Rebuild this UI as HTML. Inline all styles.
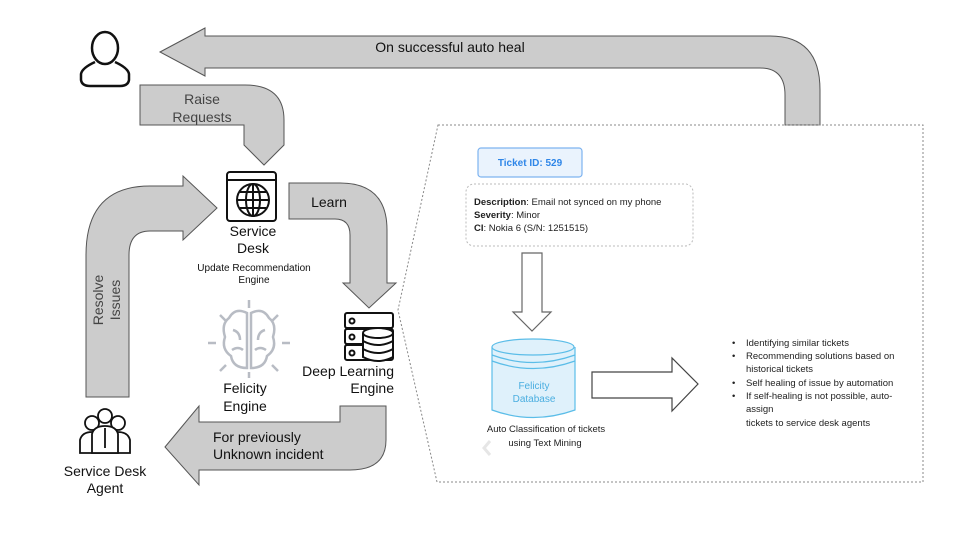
<!DOCTYPE html>
<html><head><meta charset="utf-8"><style>
body{margin:0;background:#fff}
svg{display:block}
text{font-family:"Liberation Sans",sans-serif}
</style></head><body>
<svg width="960" height="540" viewBox="0 0 960 540" xmlns="http://www.w3.org/2000/svg">
<rect width="960" height="540" fill="#fff"/>
<g fill="#cccccc" stroke="#555" stroke-width="1">
<path d="M160,52 L205,28 L205,36 L770,36 Q820,36 820,90 L820,125 L785,125 L785,95 Q785,68 760,68 L205,68 L205,76 Z"/>
<path d="M140,85 L245,85 Q284,85 284,120 L284,145 L264,165 L244,145 L244,125 L140,125 Z"/>
<path d="M86,397 L86,255 Q86,186 150,186 L183,186 L183,176 L217,208 L183,240 L183,231 L150,231 Q129,231 129,255 L129,397 Z"/>
<path d="M289,183 L340,183 Q387,183 387,230 L387,283 L396,283 L369,308 L343,283 L350,283 L350,235 Q350,219 335,219 L289,219 Z"/>
<path d="M165,447 L199,406 L199,422 L340,422 L340,406 L386,406 L386,440 Q386,470 350,470 L199,470 L199,485 Z"/>
</g>
<g fill="#333" font-size="14">
<text x="450" y="52" text-anchor="middle" fill="#111">On successful auto heal</text>
<text x="202" y="104" text-anchor="middle" fill="#444">Raise</text>
<text x="202" y="122" text-anchor="middle" fill="#444">Requests</text>
<text x="329" y="207" text-anchor="middle" fill="#111">Learn</text>
<text x="213" y="442" fill="#111">For previously</text>
<text x="213" y="459" fill="#111">Unknown incident</text>
<text transform="translate(103,300) rotate(-90)" text-anchor="middle" fill="#444">Resolve</text>
<text transform="translate(120,300) rotate(-90)" text-anchor="middle" fill="#444">Issues</text>
<text x="253" y="236" text-anchor="middle" fill="#111">Service</text>
<text x="253" y="253" text-anchor="middle" fill="#111">Desk</text>
<text x="245" y="393" text-anchor="middle" fill="#111">Felicity</text>
<text x="245" y="411" text-anchor="middle" fill="#111">Engine</text>
<text x="394" y="376" text-anchor="end" fill="#111">Deep Learning</text>
<text x="394" y="393" text-anchor="end" fill="#111">Engine</text>
<text x="105" y="476" text-anchor="middle" fill="#111">Service Desk</text>
<text x="105" y="493" text-anchor="middle" fill="#111">Agent</text>
</g>
<text x="254" y="271" font-size="10" text-anchor="middle" fill="#111">Update Recommendation</text>
<text x="254" y="283" font-size="10" text-anchor="middle" fill="#111">Engine</text>
<!-- person -->
<g fill="none" stroke="#111" stroke-width="2.5">
<ellipse cx="105" cy="48" rx="13" ry="16"/>
<path d="M95,62 Q82,68 81,74 L81,80 Q82,86 90,86 L120,86 Q128,86 129,80 L129,74 Q128,68 115,62"/>
</g>
<!-- browser icon -->
<g fill="none" stroke="#111" stroke-width="2">
<rect x="227" y="172" width="49" height="49" rx="3"/>
<line x1="227" y1="180" x2="276" y2="180"/>
<circle cx="253" cy="200" r="16"/>
<ellipse cx="253" cy="200" rx="7" ry="16"/>
<line x1="237" y1="200" x2="269" y2="200"/>
<line x1="240" y1="192" x2="266" y2="192"/><line x1="240" y1="208" x2="266" y2="208"/>
<line x1="253" y1="184" x2="253" y2="216"/>
</g>
<!-- server icon -->
<g fill="#fff" stroke="#111" stroke-width="2">
<rect x="345" y="313" width="48" height="15" rx="2"/>
<rect x="345" y="329" width="48" height="15" rx="2"/>
<rect x="345" y="345" width="48" height="15" rx="2"/>
<circle cx="352" cy="321" r="2.5"/><circle cx="352" cy="337" r="2.5"/><circle cx="352" cy="353" r="2.5"/>
<path d="M363,333 L363,357 Q378,365 393,357 L393,333"/>
<ellipse cx="378" cy="333" rx="15" ry="5"/>
<path d="M363,341 Q378,349 393,341 M363,349 Q378,357 393,349"/>
</g>
<!-- brain -->
<g fill="none" stroke="#b8bcc4" stroke-width="2.5">
<path d="M247,313 Q235,307 229,318 Q221,324 225,337 Q221,349 231,356 Q233,368 247,368 Z"/>
<path d="M251,313 Q263,307 269,318 Q277,324 273,337 Q277,349 267,356 Q265,368 251,368 Z"/>
<path d="M233,330 Q240,332 240,340 M265,330 Q258,332 258,340 M232,350 Q238,346 243,350 M266,350 Q260,346 255,350"/>
<line x1="249" y1="300" x2="249" y2="308"/><line x1="249" y1="372" x2="249" y2="378"/>
<line x1="208" y1="343" x2="216" y2="343"/><line x1="282" y1="343" x2="290" y2="343"/>
<line x1="220" y1="315" x2="226" y2="321"/><line x1="278" y1="315" x2="272" y2="321"/>
<line x1="220" y1="371" x2="226" y2="365"/><line x1="278" y1="371" x2="272" y2="365"/>
</g>
<!-- agents -->
<g fill="#fff" stroke="#111" stroke-width="1.8">
<circle cx="92" cy="423" r="7"/><circle cx="118" cy="423" r="7"/>
<path d="M80,453 L80,440 Q82,432 92,432 Q102,432 104,440 L104,453 Z"/>
<path d="M106,453 L106,440 Q108,432 118,432 Q128,432 130,440 L130,453 Z"/>
<circle cx="105" cy="416" r="7"/>
<path d="M92,453 L92,434 Q94,426 105,426 Q116,426 118,434 L118,453 Z"/>
<line x1="105" y1="428" x2="105" y2="448"/>
</g>
<!-- dotted polygon -->
<path d="M438,125 L923,125 L923,482 L437,482 L398,310 Z" fill="none" stroke="#888" stroke-width="1" stroke-dasharray="2,2"/>
<!-- ticket -->
<rect x="478" y="148" width="104" height="29" rx="3" fill="#eaf3fd" stroke="#7db3f0" stroke-width="1.2"/>
<text x="530" y="166" font-size="10" font-weight="bold" text-anchor="middle" fill="#2f86e8">Ticket ID: 529</text>
<rect x="466" y="184" width="227" height="62" rx="8" fill="#fff" stroke="#bbb" stroke-dasharray="2,2"/>
<g font-size="9.5" fill="#222">
<text x="474" y="205"><tspan font-weight="bold">Description</tspan>: Email not synced on my phone</text>
<text x="474" y="218"><tspan font-weight="bold">Severity</tspan>: Minor</text>
<text x="474" y="231"><tspan font-weight="bold">CI</tspan>: Nokia 6 (S/N: 1251515)</text>
</g>
<path d="M522,253 L542,253 L542,312 L551,312 L532,331 L513,312 L522,312 Z" fill="#fff" stroke="#666" stroke-width="1.2"/>
<!-- cylinder -->
<g fill="#dff1fb" stroke="#5bbde8" stroke-width="1.2">
<path d="M492,347 L492,410 Q533,425 575,410 L575,347"/>
<ellipse cx="533" cy="347" rx="41" ry="8"/>
<path d="M492,355 Q533,370 575,355 M492,361 Q533,376 575,361" fill="none"/>
</g>
<text x="534" y="389" font-size="10" text-anchor="middle" fill="#4aaee0">Felicity</text>
<text x="534" y="402" font-size="10" text-anchor="middle" fill="#4aaee0">Database</text>
<path d="M592,372 L672,372 L672,358 L698,384 L672,411 L672,398 L592,398 Z" fill="#fff" stroke="#444" stroke-width="1.2"/>
<g font-size="9.5" fill="#222">
<text x="546" y="432" text-anchor="middle">Auto Classification of tickets</text>
<text x="545" y="446" text-anchor="middle">using Text Mining</text>
<text x="732" y="346">•</text><text x="746" y="346">Identifying similar tickets</text>
<text x="732" y="359">•</text><text x="746" y="359">Recommending solutions based on</text>
<text x="746" y="372">historical tickets</text>
<text x="732" y="386">•</text><text x="746" y="386">Self healing of issue by automation</text>
<text x="732" y="399">•</text><text x="746" y="399">If self-healing is not possible, auto-</text>
<text x="746" y="412">assign</text>
<text x="746" y="426">tickets to service desk agents</text>
</g>
<path d="M490,441 L484,448 L490,455" fill="none" stroke="#e6e6e6" stroke-width="3"/>
</svg>
</body></html>
